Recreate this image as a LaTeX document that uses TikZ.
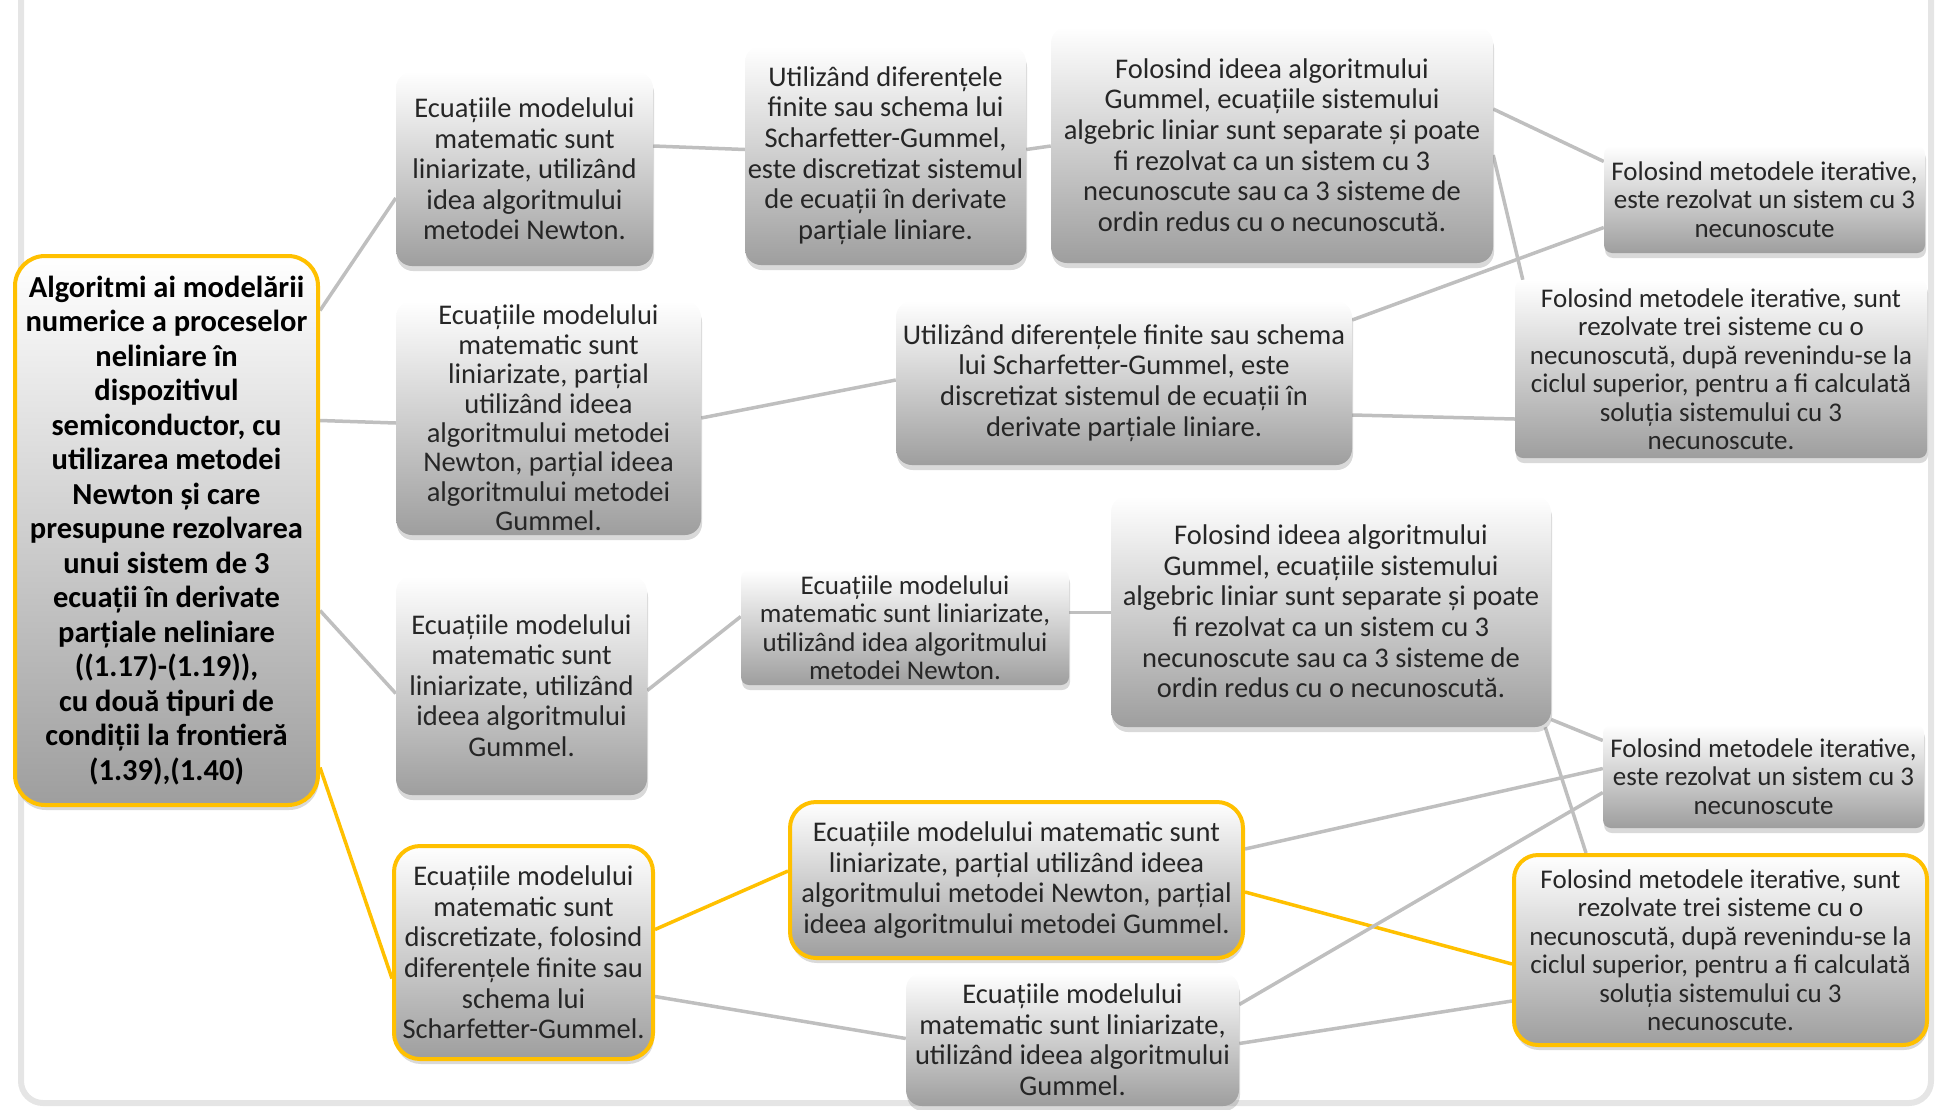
\documentclass[tikz,border=0pt]{standalone}
\usepackage{fontspec}
\setmainfont{Carlito}
\usepackage{tikz}
\usetikzlibrary{shadows,backgrounds}
\definecolor{gold}{HTML}{FFC000}
\definecolor{linkgray}{HTML}{BFBFBF}
\definecolor{txt}{HTML}{262626}

\begin{document}
\begin{tikzpicture}[x=1pt, y=-1pt,
		box/.style={rounded corners=16pt, top color=white, bottom color=black!38,
			drop shadow={shadow xshift=1pt, shadow yshift=-5pt, opacity=0.3},
			align=center, inner sep=2pt, text=txt, font=\fontsize{28.5}{30.6}\selectfont},
		gold box/.style={draw=gold, line width=4pt},
		small/.style={rounded corners=8pt, font=\fontsize{27}{28.5}\selectfont},
		link/.style={draw=linkgray, line width=3.5pt},
		gold link/.style={draw=gold, line width=3.5pt}]
		\useasboundingbox (0,0) rectangle (1943,1109);
		
		\node[box, gold box, rounded corners=30pt, minimum width=303pt, minimum height=549pt, text=black,
			font=\bfseries\fontsize{30.5}{34.5}\selectfont] (root) at (166.5,530.5)
		{Algoritmi ai modelării\\ numerice a proceselor\\ neliniare în\\ dispozitivul\\ semiconductor, cu\\ utilizarea metodei\\ Newton și care\\ presupune rezolvarea\\ unui sistem de 3\\ ecuații în derivate\\ parțiale neliniare\\ ((1.17)-(1.19)),\\ cu două tipuri de\\ condiții la frontieră\\ (1.39),(1.40)};
		
		\node[box, minimum width=257pt, minimum height=194pt] (a1) at (524.5,169)
		{Ecuațiile modelului\\ matematic sunt\\ liniarizate, utilizând\\ idea algoritmului\\ metodei Newton.};
		\node[box, minimum width=305pt, minimum height=234pt, font=\fontsize{28.5}{29.4}\selectfont] (a2) at (548.5,418)
		{Ecuațiile modelului\\ matematic sunt\\ liniarizate, parțial\\ utilizând ideea\\ algoritmului metodei\\ Newton, parțial ideea\\ algoritmului metodei\\ Gummel.};
		\node[box, minimum width=251pt, minimum height=219pt] (a3) at (521.5,685.5)
		{Ecuațiile modelului\\ matematic sunt\\ liniarizate, utilizând\\ ideea algoritmului\\ Gummel.};
		\node[box, gold box, rounded corners=26pt, minimum width=259pt, minimum height=213pt] (a4) at (523.5,952.5)
		{Ecuațiile modelului\\ matematic sunt\\ discretizate, folosind\\ diferențele finite sau\\ schema lui\\ Scharfetter-Gummel.};
		
		\node[box, minimum width=281pt, minimum height=219pt] (b1) at (885.5,155.5)
		{Utilizând diferențele\\ finite sau schema lui\\ Scharfetter-Gummel,\\ este discretizat sistemul\\ de ecuații în derivate\\ parțiale liniare.};
		\node[box, minimum width=456pt, minimum height=164pt] (b2) at (1124,383)
		{Utilizând diferențele finite sau schema\\ lui Scharfetter-Gummel, este\\ discretizat sistemul de ecuații în\\ derivate parțiale liniare.};
		\node[box, small, minimum width=328pt, minimum height=115pt] (b3) at (905,627.5)
		{Ecuațiile modelului\\ matematic sunt liniarizate,\\ utilizând idea algoritmului\\ metodei Newton.};
		\node[box, gold box, rounded corners=26pt, minimum width=453pt, minimum height=156pt] (b4) at (1016.5,880)
		{Ecuațiile modelului matematic sunt\\ liniarizate, parțial utilizând ideea\\ algoritmului metodei Newton, parțial\\ ideea algoritmului metodei Gummel.};
		\node[box, minimum width=333pt, minimum height=133pt] (b5) at (1072.5,1039.5)
		{Ecuațiile modelului\\ matematic sunt liniarizate,\\ utilizând ideea algoritmului\\ Gummel.};
		
		\node[box, minimum width=442pt, minimum height=236pt] (c1) at (1272,145)
		{Folosind ideea algoritmului\\ Gummel, ecuațiile sistemului\\ algebric liniar sunt separate și poate\\ fi rezolvat ca un sistem cu 3\\ necunoscute sau ca 3 sisteme de\\ ordin redus cu o necunoscută.};
		\node[box, minimum width=440pt, minimum height=231pt] (c3) at (1331,611.5)
		{Folosind ideea algoritmului\\ Gummel, ecuațiile sistemului\\ algebric liniar sunt separate și poate\\ fi rezolvat ca un sistem cu 3\\ necunoscute sau ca 3 sisteme de\\ ordin redus cu o necunoscută.};
		
		\node[box, small, minimum width=321pt, minimum height=107pt] (d1) at (1764.5,199.5)
		{Folosind metodele iterative,\\ este rezolvat un sistem cu 3\\ necunoscute};
		\node[box, small, minimum width=412pt, minimum height=178pt] (d2) at (1721,369)
		{Folosind metodele iterative, sunt\\ rezolvate trei sisteme cu o\\ necunoscută, după revenindu-se la\\ ciclul superior, pentru a fi calculată\\ soluția sistemului cu 3\\ necunoscute.};
		\node[box, small, minimum width=321pt, minimum height=103pt] (d3) at (1763.5,776.5)
		{Folosind metodele iterative,\\ este rezolvat un sistem cu 3\\ necunoscute};
		\node[box, small, gold box, rounded corners=24pt, minimum width=413pt, minimum height=190pt] (d4) at (1720.5,950)
		{Folosind metodele iterative, sunt\\ rezolvate trei sisteme cu o\\ necunoscută, după revenindu-se la\\ ciclul superior, pentru a fi calculată\\ soluția sistemului cu 3\\ necunoscute.};
		
		\begin{scope}[on background layer]
			\draw[gray!20, line width=6pt, rounded corners=22pt] (21,-40) rectangle (1931,1103);
			% from the root
			\path[link] ([yshift=220pt]root.east) -- ([yshift=-29pt]a1.west);
			\path[link] ([yshift=110pt]root.east) -- ([yshift=-5pt]a2.west);
			\path[link] ([yshift=-80pt]root.east) -- ([yshift=-8pt]a3.west);
			\path[gold link] ([yshift=-237pt]root.east) -- ([yshift=-26pt]a4.west);
			% second column
			\path[link] ([yshift=23pt]a1.east) -- ([yshift=6pt]b1.west);
			\path[link] (a2.east) -- ([yshift=3pt]b2.west);
			\path[link] ([yshift=-5pt]a3.east) -- ([yshift=11pt]b3.west);
			\path[gold link] ([yshift=23pt]a4.east) -- ([yshift=9pt]b4.west);
			\path[link] ([yshift=-44pt]a4.east) -- ([yshift=1pt]b5.west);
			% third column
			\path[link] ([yshift=6pt]b1.east) -- ([yshift=-1pt]c1.west);
			\path[link] ([yshift=15pt]b3.east) -- ([yshift=-1pt]c3.west);
			% to the iterative solvers
			\path[link] ([yshift=36pt]c1.east) -- ([yshift=38pt]d1.west);
			\path[link] ([yshift=-10pt]c1.east) -- ([xshift=8pt]d2.north west);
			\path[link] ([yshift=63pt]b2.east) -- ([yshift=-28pt]d1.west);
			\path[link] ([yshift=-32pt]b2.east) -- ([yshift=-50pt]d2.west);
			\path[link] ([yshift=-108pt]c3.east) -- ([yshift=36pt]d3.west);
			\path[link] ([xshift=-6pt]c3.south east) -- ([xshift=74pt]d4.north west);
			\path[link] ([yshift=31pt]b4.east) -- ([yshift=8pt]d3.west);
			\path[gold link] ([yshift=-12pt]b4.east) -- ([yshift=-14pt]d4.west);
			\path[link] ([yshift=35pt]b5.east) -- ([yshift=-16pt]d3.west);
			\path[link] ([yshift=-4pt]b5.east) -- ([yshift=-51pt]d4.west);
		\end{scope}
	\end{tikzpicture}
\end{document}
